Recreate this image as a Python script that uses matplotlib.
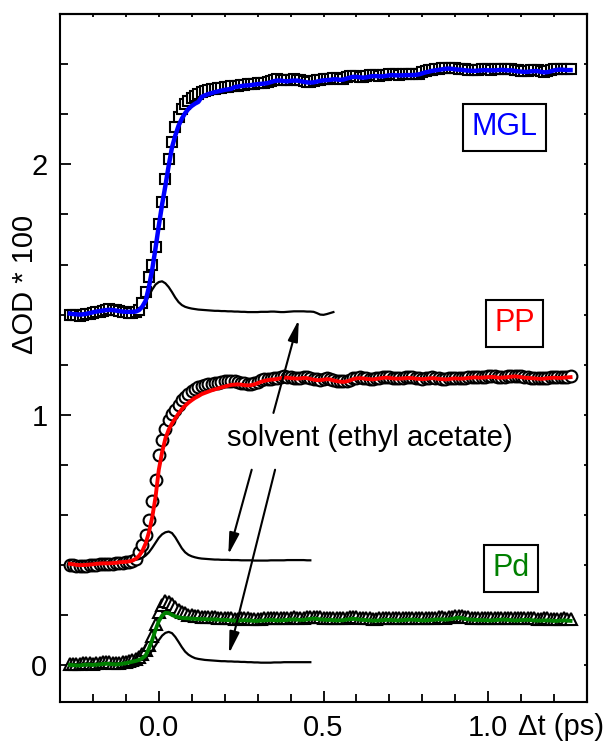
import numpy as np
import matplotlib.pyplot as plt
import matplotlib.transforms as mtransforms
from matplotlib.ticker import MultipleLocator, FixedLocator

# delay axis: all traces sampled every 10 fs starting at -0.27 ps
t_start = -0.27
t_step = 0.01

# MGL (squares) and its fit
mgl_od = [
    1.400, 1.398, 1.397, 1.396, 1.398, 1.401, 1.404, 1.407, 1.410, 1.412,
    1.415, 1.419, 1.421, 1.420, 1.417, 1.413, 1.410, 1.409, 1.408, 1.408,
    1.410, 1.420, 1.445, 1.490, 1.550, 1.600, 1.670, 1.760, 1.850, 1.940,
    2.020, 2.090, 2.150, 2.190, 2.220, 2.240, 2.255, 2.265, 2.275, 2.283,
    2.289, 2.294, 2.298, 2.301, 2.303, 2.305, 2.307, 2.309, 2.311, 2.312,
    2.314, 2.315, 2.317, 2.319, 2.320, 2.321, 2.323, 2.325, 2.326, 2.327,
    2.329, 2.333, 2.338, 2.340, 2.339, 2.337, 2.336, 2.338, 2.340, 2.339,
    2.337, 2.334, 2.331, 2.330, 2.332, 2.336, 2.339, 2.341, 2.340, 2.342,
    2.345, 2.344, 2.341, 2.343, 2.348, 2.352, 2.355, 2.354, 2.351, 2.350,
    2.352, 2.356, 2.358, 2.357, 2.355, 2.356, 2.358, 2.360, 2.361, 2.360,
    2.359, 2.360, 2.362, 2.361, 2.360, 2.361, 2.363, 2.368, 2.373, 2.376,
    2.378, 2.380, 2.382, 2.384, 2.386, 2.387, 2.386, 2.384, 2.383, 2.382,
    2.380, 2.378, 2.377, 2.378, 2.379, 2.380, 2.381, 2.380, 2.379, 2.380,
    2.381, 2.382, 2.381, 2.380, 2.380, 2.378, 2.376, 2.374, 2.373, 2.374,
    2.376, 2.378, 2.377, 2.374, 2.371, 2.372, 2.376, 2.380, 2.382, 2.383,
    2.382, 2.381, 2.380,
]
mgl_fit = [
    1.404, 1.402, 1.401, 1.400, 1.401, 1.403, 1.406, 1.409, 1.412, 1.414,
    1.416, 1.418, 1.419, 1.418, 1.416, 1.414, 1.412, 1.411, 1.411, 1.411,
    1.412, 1.418, 1.432, 1.455, 1.510, 1.580, 1.665, 1.755, 1.840, 1.915,
    1.995, 2.068, 2.115, 2.155, 2.183, 2.205, 2.222, 2.234, 2.243, 2.250,
    2.270, 2.276, 2.281, 2.285, 2.289, 2.292, 2.295, 2.298, 2.300, 2.302,
    2.309, 2.311, 2.313, 2.315, 2.316, 2.317, 2.319, 2.321, 2.322, 2.323,
    2.325, 2.329, 2.333, 2.335, 2.335, 2.333, 2.332, 2.334, 2.335, 2.335,
    2.333, 2.330, 2.328, 2.327, 2.328, 2.331, 2.334, 2.336, 2.337, 2.338,
    2.340, 2.340, 2.338, 2.339, 2.343, 2.347, 2.350, 2.350, 2.348, 2.347,
    2.348, 2.351, 2.353, 2.353, 2.352, 2.352, 2.354, 2.356, 2.357, 2.356,
    2.356, 2.356, 2.357, 2.357, 2.357, 2.358, 2.360, 2.364, 2.368, 2.371,
    2.374, 2.376, 2.378, 2.380, 2.382, 2.383, 2.382, 2.380, 2.379, 2.378,
    2.376, 2.375, 2.374, 2.374, 2.375, 2.376, 2.377, 2.376, 2.376, 2.376,
    2.377, 2.378, 2.377, 2.376, 2.376, 2.374, 2.372, 2.371, 2.370, 2.370,
    2.372, 2.373, 2.373, 2.370, 2.368, 2.369, 2.372, 2.376, 2.378, 2.379,
    2.378, 2.377, 2.377,
]

# PP (circles) and its fit
pp_od = [
    0.400, 0.398, 0.396, 0.395, 0.396, 0.397, 0.398, 0.399, 0.401, 0.403,
    0.404, 0.403, 0.402, 0.404, 0.406, 0.408, 0.409, 0.410, 0.412, 0.416,
    0.425, 0.450, 0.480, 0.520, 0.580, 0.655, 0.740, 0.840, 0.900, 0.942,
    0.977, 1.003, 1.020, 1.040, 1.057, 1.070, 1.082, 1.093, 1.103, 1.110,
    1.116, 1.120, 1.122, 1.124, 1.126, 1.128, 1.131, 1.134, 1.136, 1.135,
    1.133, 1.131, 1.128, 1.125, 1.122, 1.122, 1.125, 1.131, 1.137, 1.141,
    1.143, 1.144, 1.145, 1.148, 1.151, 1.153, 1.152, 1.150, 1.148, 1.147,
    1.148, 1.150, 1.149, 1.146, 1.143, 1.141, 1.140, 1.142, 1.145, 1.144,
    1.140, 1.136, 1.134, 1.133, 1.135, 1.140, 1.145, 1.148, 1.149, 1.148,
    1.146, 1.144, 1.143, 1.145, 1.148, 1.150, 1.151, 1.150, 1.148, 1.147,
    1.146, 1.147, 1.149, 1.150, 1.149, 1.147, 1.145, 1.144, 1.146, 1.148,
    1.149, 1.148, 1.146, 1.144, 1.143, 1.145, 1.147, 1.148, 1.147, 1.146,
    1.147, 1.149, 1.151, 1.152, 1.151, 1.150, 1.151, 1.153, 1.154, 1.153,
    1.151, 1.150, 1.151, 1.153, 1.155, 1.156, 1.155, 1.153, 1.151, 1.149,
    1.148, 1.147, 1.146, 1.145, 1.146, 1.148, 1.150, 1.151, 1.150, 1.149,
    1.150, 1.152, 1.153,
]
pp_fit = [
    0.404, 0.402, 0.400, 0.399, 0.399, 0.400, 0.401, 0.402, 0.404, 0.405,
    0.406, 0.406, 0.406, 0.407, 0.408, 0.410, 0.411, 0.412, 0.414, 0.417,
    0.424, 0.436, 0.455, 0.485, 0.530, 0.590, 0.670, 0.780, 0.850, 0.905,
    0.940, 0.965, 0.985, 1.005, 1.022, 1.036, 1.048, 1.058, 1.067, 1.074,
    1.082, 1.087, 1.092, 1.097, 1.101, 1.105, 1.109, 1.112, 1.116, 1.119,
    1.120, 1.121, 1.120, 1.118, 1.117, 1.118, 1.121, 1.126, 1.131, 1.135,
    1.138, 1.140, 1.141, 1.143, 1.146, 1.148, 1.148, 1.146, 1.145, 1.144,
    1.145, 1.147, 1.146, 1.143, 1.140, 1.138, 1.138, 1.140, 1.142, 1.141,
    1.137, 1.134, 1.132, 1.131, 1.133, 1.137, 1.142, 1.145, 1.146, 1.145,
    1.143, 1.142, 1.141, 1.143, 1.145, 1.147, 1.148, 1.147, 1.145, 1.144,
    1.144, 1.145, 1.146, 1.147, 1.146, 1.144, 1.143, 1.142, 1.143, 1.145,
    1.146, 1.145, 1.143, 1.142, 1.141, 1.142, 1.144, 1.145, 1.144, 1.144,
    1.145, 1.147, 1.148, 1.149, 1.148, 1.148, 1.149, 1.150, 1.151, 1.150,
    1.148, 1.148, 1.149, 1.150, 1.152, 1.153, 1.152, 1.150, 1.148, 1.147,
    1.146, 1.145, 1.144, 1.143, 1.144, 1.146, 1.147, 1.148, 1.147, 1.147,
    1.148, 1.149, 1.150,
]

# Pd (triangles) and its fit
pd_od = [
    0.005, 0.004, 0.003, 0.004, 0.006, 0.007, 0.006, 0.005, 0.006, 0.008,
    0.010, 0.011, 0.010, 0.008, 0.007, 0.008, 0.010, 0.012, 0.015, 0.018,
    0.022, 0.030, 0.042, 0.058, 0.080, 0.115, 0.165, 0.210, 0.240, 0.255,
    0.253, 0.242, 0.230, 0.220, 0.212, 0.206, 0.201, 0.198, 0.196, 0.194,
    0.193, 0.192, 0.191, 0.190, 0.190, 0.189, 0.188, 0.188, 0.187, 0.186,
    0.185, 0.185, 0.186, 0.187, 0.186, 0.185, 0.184, 0.184, 0.185, 0.186,
    0.187, 0.188, 0.187, 0.186, 0.186, 0.187, 0.188, 0.189, 0.190, 0.189,
    0.188, 0.188, 0.190, 0.192, 0.193, 0.192, 0.190, 0.189, 0.188, 0.188,
    0.187, 0.186, 0.186, 0.187, 0.189, 0.191, 0.192, 0.191, 0.189, 0.188,
    0.187, 0.186, 0.185, 0.185, 0.186, 0.187, 0.188, 0.188, 0.187, 0.186,
    0.186, 0.187, 0.188, 0.189, 0.189, 0.188, 0.187, 0.186, 0.186, 0.187,
    0.188, 0.189, 0.190, 0.190, 0.189, 0.190, 0.192, 0.195, 0.197, 0.195,
    0.192, 0.190, 0.189, 0.188, 0.188, 0.187, 0.187, 0.186, 0.186, 0.187,
    0.188, 0.189, 0.189, 0.188, 0.187, 0.186, 0.186, 0.187, 0.188, 0.188,
    0.187, 0.186, 0.185, 0.185, 0.186, 0.186, 0.185, 0.184, 0.184, 0.185,
    0.186, 0.185, 0.184,
]
pd_fit = [
    0.000, -0.001, -0.002, -0.002, 0.000, 0.001, 0.001, 0.000, 0.001, 0.002,
    0.004, 0.005, 0.004, 0.003, 0.002, 0.003, 0.005, 0.007, 0.010, 0.013,
    0.016, 0.020, 0.027, 0.038, 0.065, 0.100, 0.140, 0.175, 0.197, 0.208,
    0.207, 0.200, 0.194, 0.190, 0.188, 0.187, 0.186, 0.185, 0.184, 0.184,
    0.183, 0.183, 0.182, 0.182, 0.182, 0.181, 0.180, 0.180, 0.179, 0.178,
    0.177, 0.177, 0.178, 0.179, 0.178, 0.177, 0.176, 0.176, 0.177, 0.178,
    0.179, 0.180, 0.179, 0.178, 0.178, 0.179, 0.180, 0.181, 0.182, 0.181,
    0.180, 0.180, 0.182, 0.184, 0.185, 0.184, 0.182, 0.181, 0.180, 0.180,
    0.179, 0.178, 0.178, 0.179, 0.181, 0.183, 0.184, 0.183, 0.181, 0.180,
    0.179, 0.178, 0.177, 0.177, 0.178, 0.179, 0.180, 0.180, 0.179, 0.178,
    0.178, 0.179, 0.180, 0.181, 0.181, 0.180, 0.179, 0.178, 0.178, 0.179,
    0.180, 0.181, 0.182, 0.182, 0.181, 0.182, 0.184, 0.187, 0.189, 0.187,
    0.184, 0.182, 0.181, 0.180, 0.180, 0.179, 0.179, 0.178, 0.178, 0.179,
    0.180, 0.181, 0.181, 0.180, 0.179, 0.178, 0.178, 0.179, 0.180, 0.180,
    0.179, 0.178, 0.177, 0.177, 0.178, 0.178, 0.177, 0.176, 0.176, 0.177,
    0.178, 0.177, 0.176,
]

# pure solvent (ethyl acetate), shifted to each baseline
solv_mgl = [
    1.405, 1.404, 1.403, 1.403, 1.404, 1.406, 1.408, 1.410, 1.412, 1.414,
    1.416, 1.417, 1.417, 1.416, 1.414, 1.412, 1.411, 1.410, 1.410, 1.411,
    1.412, 1.418, 1.430, 1.450, 1.475, 1.500, 1.520, 1.530, 1.533, 1.525,
    1.510, 1.490, 1.468, 1.450, 1.438, 1.431, 1.427, 1.424, 1.422, 1.420,
    1.419, 1.418, 1.417, 1.416, 1.415, 1.415, 1.414, 1.414, 1.413, 1.413,
    1.412, 1.412, 1.411, 1.411, 1.410, 1.410, 1.410, 1.410, 1.411, 1.411,
    1.411, 1.412, 1.412, 1.411, 1.410, 1.410, 1.411, 1.412, 1.413, 1.413,
    1.413, 1.413, 1.412, 1.412, 1.411, 1.406, 1.400, 1.399, 1.402, 1.406,
    1.410,
]
solv_pp = [
    0.405, 0.404, 0.403, 0.403, 0.404, 0.405, 0.406, 0.407, 0.408, 0.409,
    0.410, 0.410, 0.410, 0.410, 0.411, 0.412, 0.413, 0.414, 0.416, 0.418,
    0.420, 0.423, 0.428, 0.437, 0.450, 0.468, 0.488, 0.508, 0.522, 0.530,
    0.533, 0.527, 0.510, 0.488, 0.466, 0.450, 0.440, 0.434, 0.430, 0.427,
    0.425, 0.424, 0.423, 0.422, 0.421, 0.421, 0.420, 0.420, 0.420, 0.419,
    0.419, 0.419, 0.418, 0.418, 0.418, 0.418, 0.417, 0.417, 0.417, 0.417,
    0.417, 0.418, 0.418, 0.418, 0.418, 0.418, 0.419, 0.419, 0.419, 0.419,
    0.419, 0.419, 0.418, 0.418,
]
solv_pd = [
    0.004, 0.003, 0.003, 0.004, 0.005, 0.006, 0.006, 0.005, 0.005, 0.006,
    0.007, 0.008, 0.008, 0.007, 0.006, 0.006, 0.007, 0.008, 0.009, 0.011,
    0.013, 0.016, 0.021, 0.029, 0.041, 0.058, 0.078, 0.099, 0.117, 0.128,
    0.132, 0.127, 0.112, 0.092, 0.071, 0.053, 0.041, 0.033, 0.027, 0.024,
    0.022, 0.020, 0.019, 0.018, 0.017, 0.016, 0.015, 0.015, 0.014, 0.014,
    0.013, 0.013, 0.012, 0.012, 0.011, 0.011, 0.010, 0.010, 0.009, 0.009,
    0.009, 0.009, 0.010, 0.010, 0.010, 0.011, 0.011, 0.011, 0.011, 0.011,
    0.011, 0.011, 0.011, 0.011,
]


def delay(values):
    return t_start + t_step * np.arange(len(values))


plt.rcParams['font.family'] = ['Liberation Sans', 'DejaVu Sans']

fig = plt.figure(figsize=(6.09, 7.44), dpi=100)
ax = fig.add_axes([0.0985, 0.0565, 0.8654, 0.9243])

# 数据点: 空心标记
marker_style = dict(ls='none', mfc='white', mec='black', mew=1.5)
ax.plot(delay(mgl_od), mgl_od, marker='s', ms=7.5, **marker_style)
ax.plot(delay(pp_od), pp_od, marker='o', ms=8.5, **marker_style)
ax.plot(delay(pd_od), pd_od, marker='^', ms=8.5, **marker_style)

# 溶剂信号
for trace in (solv_mgl, solv_pp, solv_pd):
    ax.plot(delay(trace), trace, color='black', lw=1.6)

# 拟合曲线
ax.plot(delay(mgl_fit), mgl_fit, color='#0000ff', lw=3.2)
ax.plot(delay(pp_fit), pp_fit, color='#ff0000', lw=2.8)
ax.plot(delay(pd_fit), pd_fit, color='#008000', lw=2.8)

ax.set_xlim(-0.3, 1.3)
ax.set_ylim(-0.148, 2.6)

# 刻度
ax.xaxis.set_major_locator(FixedLocator([0.0, 0.5, 1.0]))
ax.set_xticklabels(['0.0', '0.5', '1.0'])
ax.xaxis.set_minor_locator(MultipleLocator(0.1))
ax.yaxis.set_major_locator(FixedLocator([0, 1, 2]))
ax.set_yticklabels(['0', '1', '2'])
ax.yaxis.set_minor_locator(MultipleLocator(0.2))
ax.tick_params(which='major', direction='in', length=8, width=1.3, labelsize=21, pad=9)
ax.tick_params(which='minor', direction='in', length=5.5, width=1.3)

# 上方和右方的短刻度
top = ax.secondary_xaxis('top')
top.xaxis.set_major_locator(MultipleLocator(0.1))
top.tick_params(direction='in', length=2.5, width=1.3, labeltop=False)
right = ax.secondary_yaxis('right')
right.yaxis.set_major_locator(MultipleLocator(0.2))
right.tick_params(direction='in', length=2.5, width=1.3, labelright=False)
for a in (ax, top, right):
    for sp in a.spines.values():
        sp.set_linewidth(1.5)

# 样品标签
box = dict(boxstyle='square,pad=0.28', fc='white', ec='black', lw=1.5)
ax.text(1.05, 2.148, 'MGL', color='#0000ff', fontsize=22, ha='center', va='center', bbox=box)
ax.text(1.08, 1.366, 'PP', color='#ff0000', fontsize=22, ha='center', va='center', bbox=box)
ax.text(1.07, 0.386, 'Pd', color='#008000', fontsize=22, ha='center', va='center', bbox=box)

# 溶剂注释和箭头
ax.text(0.64, 0.905, 'solvent (ethyl acetate)', fontsize=21, ha='center', va='center')
arrow = dict(arrowstyle='-|>,head_length=0.65,head_width=0.15', color='black', lw=1.5,
             mutation_scale=20, shrinkA=0, shrinkB=0)
ax.annotate('', xy=(0.425, 1.38), xytext=(0.348, 1.007), arrowprops=arrow)
ax.annotate('', xy=(0.211, 0.44), xytext=(0.282, 0.78), arrowprops=arrow)
ax.annotate('', xy=(0.213, 0.045), xytext=(0.353, 0.78), arrowprops=arrow)

# 坐标轴标题
trans = mtransforms.blended_transform_factory(ax.transData, ax.transAxes)
ax.text(1.091, -0.048, 'Δt (ps)', transform=trans, fontsize=21, ha='left', va='baseline')
fig.text(25 / 609, 1 - 284.5 / 744, 'ΔOD * 100', rotation=90, ha='center', va='center', fontsize=21)

fig.savefig('out.png', dpi=100)
